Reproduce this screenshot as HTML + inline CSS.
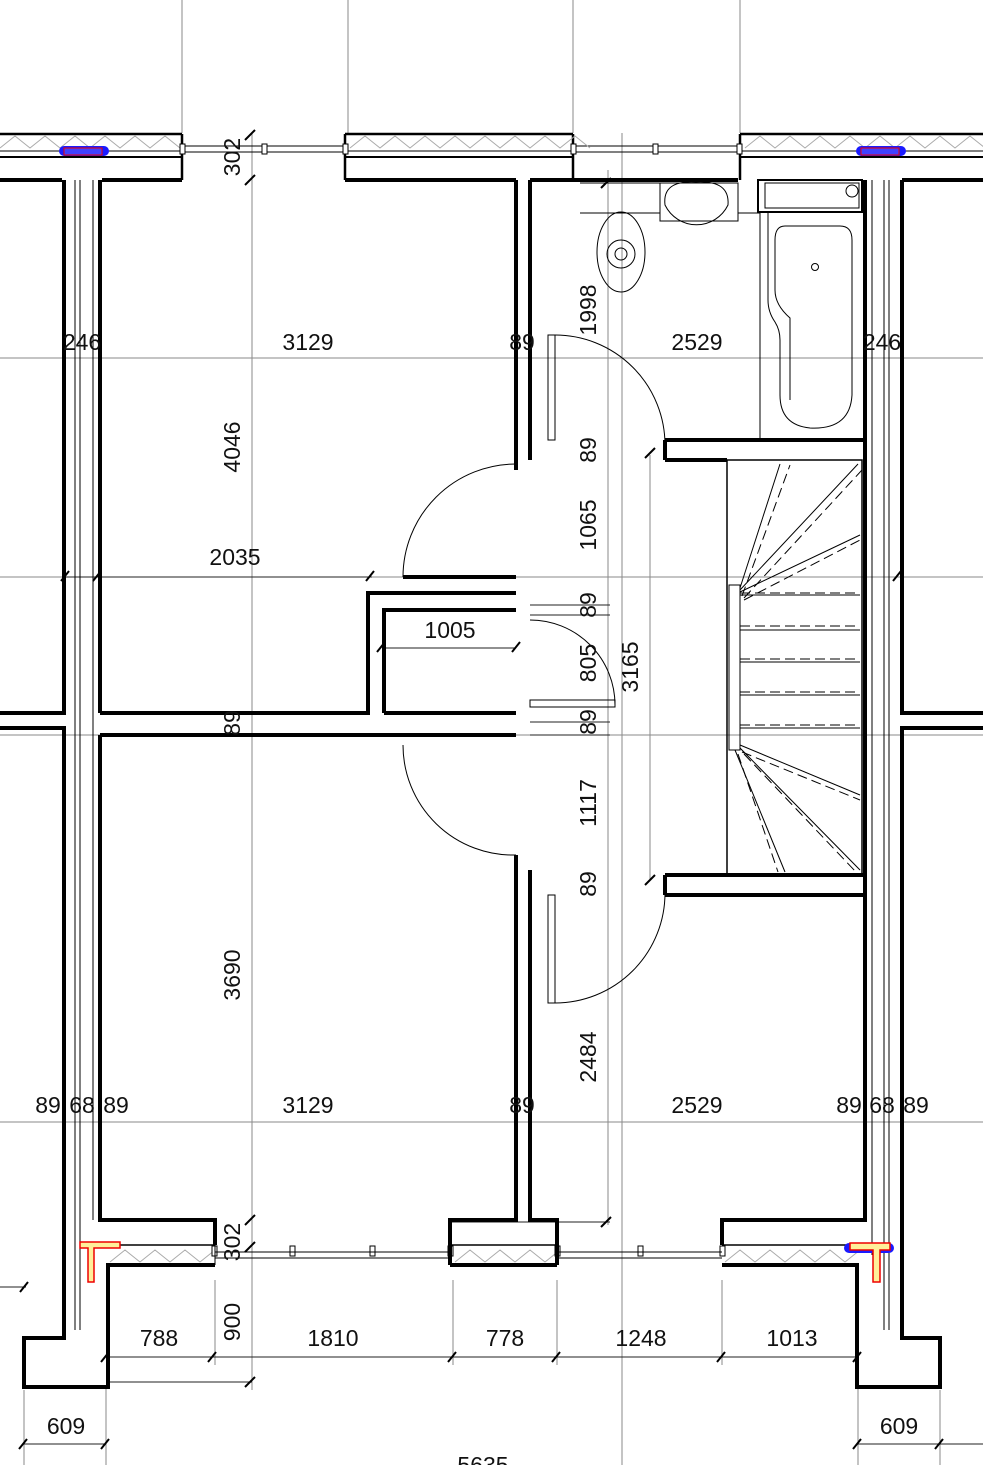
<!DOCTYPE html>
<html><head><meta charset="utf-8"><style>
html,body{margin:0;padding:0;background:#fff;}
svg{display:block;}
text{font-family:"Liberation Sans",sans-serif;font-size:23px;fill:#111;}
</style></head><body>
<svg width="983" height="1465" viewBox="0 0 983 1465" xmlns="http://www.w3.org/2000/svg">
<rect width="983" height="1465" fill="#fff"/>
<g stroke="#8a8a8a" stroke-width="1" fill="none">
<line x1="182" y1="0" x2="182" y2="133"/><line x1="348" y1="0" x2="348" y2="133"/>
<line x1="573" y1="0" x2="573" y2="133"/><line x1="740" y1="0" x2="740" y2="133"/>
<line x1="252" y1="133" x2="252" y2="1390"/><line x1="622" y1="133" x2="622" y2="1465"/>
<line x1="608" y1="170" x2="608" y2="1225"/><line x1="650" y1="455" x2="650" y2="880"/>
<line x1="0" y1="358" x2="983" y2="358"/><line x1="0" y1="577" x2="983" y2="577"/>
<line x1="0" y1="735" x2="983" y2="735"/><line x1="0" y1="1122" x2="983" y2="1122"/>
<line x1="106" y1="1385" x2="106" y2="1465"/><line x1="858" y1="1385" x2="858" y2="1465"/>
<line x1="24" y1="1390" x2="24" y2="1465"/><line x1="940" y1="1390" x2="940" y2="1465"/>
<line x1="215" y1="1280" x2="215" y2="1365"/><line x1="453" y1="1280" x2="453" y2="1365"/>
<line x1="557" y1="1280" x2="557" y2="1365"/><line x1="722" y1="1280" x2="722" y2="1365"/>
</g>
<g stroke="#222" stroke-width="1" fill="none">
<line x1="106" y1="1357" x2="858" y2="1357"/><line x1="24" y1="1444" x2="106" y2="1444"/>
<line x1="858" y1="1444" x2="983" y2="1444"/><line x1="0" y1="1287" x2="26" y2="1287"/>
<line x1="108" y1="1382" x2="252" y2="1382"/>
<line x1="66" y1="577" x2="372" y2="577"/><line x1="384" y1="648" x2="516" y2="648"/>
<line x1="530" y1="605" x2="610" y2="605"/><line x1="530" y1="615" x2="610" y2="615"/>
<line x1="530" y1="722" x2="610" y2="722"/><line x1="530" y1="735" x2="610" y2="735"/>
<line x1="580" y1="183" x2="610" y2="183"/><line x1="610" y1="1222" x2="450" y2="1222"/>
</g>
<g stroke="#000" stroke-width="2">
<path d="M20 1292l8-10M101 1362l8-10M208 1362l8-10M448 1362l8-10M552 1362l8-10M717 1362l8-10M853 1362l8-10M19 1449l8-10M101 1449l8-10M853 1449l8-10M935 1449l8-10M245 1387l10-10M245 1252l10-10M245 1225l10-10M245 140l10-10M245 185l10-10M601 1227l10-10M601 188l10-10M645 458l10-10M645 885l10-10M366 581l8-10M61 581l8-10M93 581l8-10M377 652l8-10M512 652l8-10M893 581l8-10"/>
</g>
<g fill="none" stroke="#000">
<path d="M0 134H182M345 134H573M740 134H983" stroke-width="2.5"/>
<path d="M0 151H182M345 151H573M740 151H983" stroke-width="1"/>
<path d="M0 157H182M345 157H573M740 157H983" stroke-width="2"/>
<path d="M182 134V180M345 134V180M573 134V180M740 134V180" stroke-width="2.5"/>
<path d="M182 146H345M182 152H345M573 146H740M573 152H740" stroke-width="1"/>
<path d="M0 180H62M102 180H182M345 180H516M530 180H738M902 180H983" stroke-width="4"/>
</g>
<path d="M0 148l15-12 15 12 15-12 15 12 15-12 15 12 15-12 15 12 15-12 15 12 15-12 15 12M350 148l15-12 15 12 15-12 15 12 15-12 15 12 15-12 15 12 15-12 15 12 15-12 15 12 15-12 15 12 15-12 15 12M745 148l15-12 15 12 15-12 15 12 15-12 15 12 15-12 15 12 15-12 15 12 15-12 15 12 15-12 15 12 15-12 15 12" stroke="#aaa" stroke-width="1" fill="none"/>
<path d="M110 1262l15-12 15 12 15-12 15 12 15-12 15 12 15-12M455 1262l15-12 15 12 15-12 15 12 15-12 15 12 15-12M725 1262l15-12 15 12 15-12 15 12 15-12 15 12 15-12 15 12 15-12" stroke="#aaa" stroke-width="1" fill="none"/>
<rect x="59" y="146" width="50" height="10" rx="5" fill="#1a1aff"/>
<rect x="64" y="148" width="38" height="7" fill="#4040ff" stroke="#e00" stroke-width="1"/>
<rect x="856" y="146" width="50" height="10" rx="5" fill="#1a1aff"/>
<rect x="861" y="148" width="38" height="7" fill="#4040ff" stroke="#e00" stroke-width="1"/>
<g fill="#fff" stroke="#000" stroke-width="1"><rect x="180" y="144" width="5" height="10"/><rect x="262" y="144" width="5" height="10"/><rect x="343" y="144" width="5" height="10"/><rect x="571" y="144" width="5" height="10"/><rect x="653" y="144" width="5" height="10"/><rect x="737" y="144" width="5" height="10"/>
<rect x="212" y="1246" width="5" height="10"/><rect x="290" y="1246" width="5" height="10"/><rect x="370" y="1246" width="5" height="10"/><rect x="448" y="1246" width="5" height="10"/><rect x="555" y="1246" width="5" height="10"/><rect x="638" y="1246" width="5" height="10"/><rect x="720" y="1246" width="5" height="10"/></g>
<g fill="none" stroke="#000" stroke-width="4">
<path d="M64 180V713H0M0 728H64V1338H24V1387H108V1265H215"/>
<path d="M100 180V713M100 735V1220H215V1245"/>
<path d="M902 180V713H983M983 728H902V1338H940V1387H857V1265H722"/>
<path d="M865 180V1220H722V1245"/>
<path d="M516 180V470M530 180V460"/>
<path d="M516 855V1220H450V1265M530 870V1220H557V1265"/>
<path d="M450 1265H557"/>
<path d="M100 713H368V593H516M100 735H516M384 713V610H516M384 713H516M403 577H516"/>
<path d="M665 440H865M665 460H727M665 875H865M665 895H865M665 440V460M665 875V895"/>
</g>
<g fill="none" stroke="#000" stroke-width="1.5">
<path d="M108 1245H215M722 1245H857M450 1245H557"/>
</g>
<g fill="none" stroke="#000" stroke-width="1">
<path d="M75 180V1330M80 180V1330M93 180V1220M889 180V1330M884 180V1330M872 180V1255"/>
<path d="M108 1265V1385M215 1245V1265M215 1258H450M215 1252H450M557 1252H722M557 1258H722"/>
<rect x="548" y="335" width="7" height="105"/><rect x="548" y="895" width="7" height="108"/>
<rect x="530" y="700" width="85" height="7"/>
<path d="M555 335A110 110 0 0 1 665 445"/>
<path d="M555 1003A110 110 0 0 0 665 893"/>
<path d="M516 464A113 113 0 0 0 403 577"/>
<path d="M403 745A110 110 0 0 0 516 855"/>
<path d="M530 620A85 85 0 0 1 615 705"/>
</g>
<path d="M80 1242H120V1248H94V1282H88V1248H80Z" fill="#ffef9a" stroke="#e00" stroke-width="1.5"/>
<rect x="844" y="1243" width="50" height="10" rx="5" fill="#1a1aff"/>
<path d="M850 1243H890V1250H880V1282H873V1250H850Z" fill="#ffef9a" stroke="#e00" stroke-width="1.5"/>
<g fill="none" stroke="#000" stroke-width="1">
<rect x="660" y="183" width="78" height="38"/>
<path d="M665 205A35 35 0 0 0 728 205Q730 180 696 182Q662 180 665 205Z"/>
<ellipse cx="621" cy="252" rx="24" ry="40"/><ellipse cx="621" cy="254" rx="14" ry="14"/><circle cx="621" cy="254" r="6"/>
<path d="M580 213H660M738 213H760M580 183H660"/>
<rect x="758" y="180" width="104" height="32" stroke-width="2"/>
<rect x="765" y="183" width="94" height="25"/>
<circle cx="852" cy="191" r="6"/>
<path d="M768 212V300Q768 312 775 322Q780 330 780 340V395Q780 425 810 428Q850 430 852 395V240Q852 226 840 226H785Q775 226 775 240V290Q775 305 790 318V400" />
<path d="M760 212V440"/>
<circle cx="815" cy="267" r="3.5"/>
</g>
<g fill="none" stroke="#000">
<rect x="727" y="460" width="135" height="415" stroke-width="1.5"/>
<rect x="729" y="585" width="11" height="165" stroke-width="1"/>
<path d="M740 588L780 464M740 590L858 464M740 592L860 535M740 595H860M740 630H860M740 662H860M740 695H860M740 728H860M740 745L860 795M740 748L860 870M735 750L785 872" stroke-width="1"/>
<path d="M742 596L790 465M744 598L862 470M744 600L860 540M740 593H860M740 626H860M740 659H860M740 692H860M740 725H860M742 752L860 800M744 754L856 872M738 754L778 872" stroke-width="1" stroke-dasharray="10 5"/>
</g>
<g text-anchor="middle">
<text x="82" y="350">246</text><text x="308" y="350">3129</text><text x="522" y="350">89</text><text x="697" y="350">2529</text><text x="882" y="350">246</text>
<text x="235" y="565">2035</text><text x="450" y="638">1005</text>
<text x="48" y="1113">89</text><text x="82" y="1113">68</text><text x="116" y="1113">89</text>
<text x="308" y="1113">3129</text><text x="522" y="1113">89</text><text x="697" y="1113">2529</text>
<text x="849" y="1113">89</text><text x="882" y="1113">68</text><text x="916" y="1113">89</text>
<text x="159" y="1346">788</text><text x="333" y="1346">1810</text><text x="505" y="1346">778</text><text x="641" y="1346">1248</text><text x="792" y="1346">1013</text>
<text x="66" y="1434">609</text><text x="899" y="1434">609</text><text x="483" y="1473">5635</text>
<g>
<text transform="translate(240 157) rotate(-90)">302</text>
<text transform="translate(240 1242) rotate(-90)">302</text>
<text transform="translate(240 447) rotate(-90)">4046</text>
<text transform="translate(240 975) rotate(-90)">3690</text>
<text transform="translate(240 1322) rotate(-90)">900</text>
<text transform="translate(240 723) rotate(-90)">89</text>
<text transform="translate(596 310) rotate(-90)">1998</text>
<text transform="translate(596 450) rotate(-90)">89</text>
<text transform="translate(596 525) rotate(-90)">1065</text>
<text transform="translate(596 605) rotate(-90)">89</text>
<text transform="translate(596 663) rotate(-90)">805</text>
<text transform="translate(638 667) rotate(-90)">3165</text>
<text transform="translate(596 722) rotate(-90)">89</text>
<text transform="translate(596 803) rotate(-90)">1117</text>
<text transform="translate(596 884) rotate(-90)">89</text>
<text transform="translate(596 1057) rotate(-90)">2484</text>
</g>
</g>
</svg>
</body></html>
